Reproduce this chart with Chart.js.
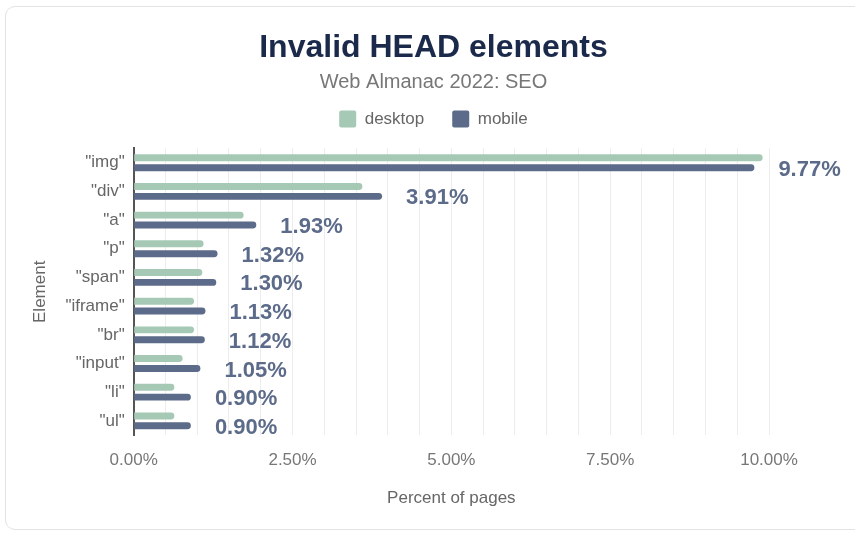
<!DOCTYPE html>
<html>
<head>
<meta charset="utf-8">
<script src="https://cdn.jsdelivr.net/npm/chart.js@4"></script>
<style>
  html, body { margin: 0; padding: 0; background: #fff; }
  body { width: 855px; height: 533px; position: relative; overflow: hidden; font-family: 'Liberation Sans', Arial, sans-serif; }
  .card { position: absolute; left: 5px; top: 6px; width: 870px; height: 524px; border: 1px solid #e3e3e3; border-radius: 10px; box-sizing: border-box; }
  .wrap { position: absolute; left: 0; top: 0; width: 855px; height: 533px; }
</style>
</head>
<body>
<div class="card"></div>
<div class="wrap"><canvas id="chart"></canvas></div>
<script>
// 要素名
const categories = ['"img"', '"div"', '"a"', '"p"', '"span"', '"iframe"', '"br"', '"input"', '"li"', '"ul"'];
// desktop は画像から読み取った推定値
const desktopValues = [9.90, 3.60, 1.73, 1.10, 1.08, 0.95, 0.95, 0.77, 0.64, 0.64];
const mobileValues = [9.77, 3.91, 1.93, 1.32, 1.30, 1.13, 1.12, 1.05, 0.90, 0.90];
const tickLabels = [0, 2.5, 5, 7.5, 10];

const DESKTOP = '#a6c9b6';
const MOBILE = '#5c6b89';

Chart.defaults.font.family = '"Liberation Sans", Arial, sans-serif';

// mobile のバーの右に数値を描く
const valueLabels = {
  id: 'valueLabels',
  afterDatasetsDraw(chart) {
    const ctx = chart.ctx;
    const meta = chart.getDatasetMeta(1);
    ctx.save();
    ctx.font = 'bold 22px "Liberation Sans", Arial, sans-serif';
    ctx.fillStyle = MOBILE;
    ctx.textAlign = 'left';
    ctx.textBaseline = 'middle';
    meta.data.forEach((bar, i) => {
      ctx.fillText(mobileValues[i].toFixed(2) + '%', bar.x + 24, bar.y + 2);
    });
    ctx.restore();
  }
};

// 凡例の下に少し余白
const legendGap = {
  id: 'legendGap',
  beforeInit(chart) {
    const fit = chart.legend.fit;
    chart.legend.fit = function () {
      fit.call(this);
      this.height += 11;
    };
  }
};

new Chart(document.getElementById('chart'), {
  type: 'bar',
  data: {
    labels: categories,
    datasets: [
      { label: 'desktop', data: desktopValues, backgroundColor: DESKTOP },
      { label: 'mobile', data: mobileValues, backgroundColor: MOBILE },
    ],
  },
  options: {
    indexAxis: 'y',
    responsive: true,
    maintainAspectRatio: false,
    animation: false,
    layout: { padding: { left: 26, right: 14, top: 18, bottom: 20 } },
    datasets: {
      bar: { categoryPercentage: 0.69, barPercentage: 0.7, borderRadius: 4, borderSkipped: 'start' },
    },
    scales: {
      x: {
        min: 0,
        max: 10,
        grid: { color: '#ececec', drawTicks: false },
        border: { display: false },
        ticks: {
          stepSize: 0.5,
          autoSkip: false,
          maxRotation: 0,
          padding: 15,
          color: '#777',
          font: { size: 17 },
          callback: v => tickLabels.includes(v) ? v.toFixed(2) + '%' : '',
        },
        title: { display: true, text: 'Percent of pages', color: '#666', font: { size: 17 }, padding: { top: 3 } },
      },
      y: {
        grid: { display: false, drawTicks: false },
        border: { display: true, color: '#555', width: 2 },
        ticks: { color: '#666', font: { size: 17 }, padding: 9 },
        title: { display: true, text: 'Element', color: '#666', font: { size: 17 }, padding: { bottom: 6 } },
      },
      // 右側の数値ラベル用の空き
      spacer: {
        type: 'linear',
        axis: 'y',
        position: 'right',
        grid: { display: false },
        border: { display: false },
        ticks: { display: false },
        afterFit: s => { s.width = 72; },
      },
    },
    plugins: {
      title: {
        display: true,
        text: 'Invalid HEAD elements',
        color: '#1b2a4a',
        font: { size: 32, weight: 'bold' },
        padding: { top: 11, bottom: 3 },
      },
      subtitle: {
        display: true,
        text: 'Web Almanac 2022: SEO',
        color: '#777',
        font: { size: 20 },
        padding: { bottom: -12 },
      },
      legend: {
        labels: {
          boxWidth: 17, boxHeight: 17, useBorderRadius: true, borderRadius: 2,
          color: '#666', font: { size: 17 }, padding: 28,
        },
      },
      tooltip: { enabled: false },
    },
  },
  plugins: [valueLabels, legendGap],
});
</script>
</body>
</html>
